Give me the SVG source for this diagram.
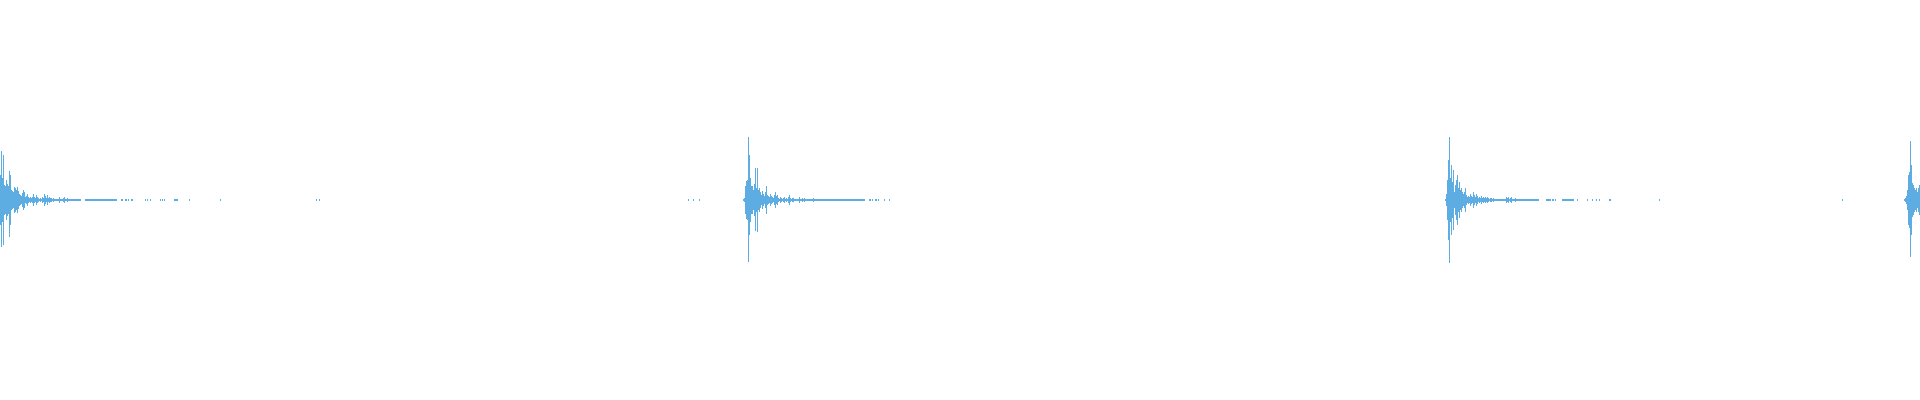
<svg xmlns="http://www.w3.org/2000/svg" width="1920" height="400" viewBox="0 0 1920 400">
<style>.w{fill:none;stroke:#5dade2;stroke-width:1}</style>
<rect width="1920" height="400" fill="#fff"/>
<g id="waveform">
<path class="w" d="M0.5 175v50M1.5 151v96M2.5 178v44M3.5 155v90M4.5 185v30M5.5 186v28M6.5 180v40M7.5 184v32M8.5 186v28M9.5 171v66M10.5 175v50M11.5 190v20M12.5 191v18M13.5 192v16M14.5 187v26M15.5 188v24M16.5 190v20M17.5 187v26M18.5 191v18M19.5 194v12M20.5 195v10M21.5 196v8M22.5 193v14M23.5 190v20M24.5 192v16M25.5 197v6M26.5 196v8M27.5 194v12M28.5 197v6M29.5 198v4M30.5 197v6M31.5 198v4M32.5 197v6M33.5 194v12M34.5 197v6M35.5 198v4M36.5 195v10M37.5 197v6M38.5 198v4M39.5 199v2M40.5 198v4M41.5 199v2M42.5 197v6M43.5 198v4M44.5 194v12M45.5 196v8M46.5 198v4M47.5 195v10M48.5 198v4M49.5 197v6M50.5 198v4M51.5 198v4M52.5 199v2M53.5 198v4M54.5 199v2M55.5 199v2M56.5 199v2M57.5 199v2M58.5 199v2M59.5 197v6M60.5 199v2M61.5 199v2M62.5 199v2M63.5 198v4M64.5 197v6M65.5 199v2M66.5 199v2M67.5 198v4M68.5 199v2M69.5 199v2M70.5 199v2M71.5 199v2M72.5 199v2M73.5 199v2M74.5 199v2M75.5 199v2M76.5 199v2M77.5 199v2M78.5 199v2M79.5 199v2M80.5 199v2M85.5 199v2M86.5 199v2M87.5 199v2M88.5 199v2M89.5 199v2M90.5 199v2M91.5 199v2M92.5 199v2M93.5 199v2M94.5 199v2M95.5 199v2M96.5 199v2M97.5 199v2M98.5 199v2M99.5 199v2M100.5 199v2M101.5 199v2M102.5 199v2M103.5 199v2M104.5 199v2M105.5 199v2M106.5 199v2M107.5 199v2M108.5 199v2M109.5 199v2M110.5 199v2M111.5 199v2M112.5 199v2M113.5 199v2M114.5 199v2M115.5 199v2M116.5 199v2M121.5 199v2M122.5 199v2M125.5 199v2M126.5 199v2M128.5 199v2M131.5 199v2M132.5 199v2M145.5 199v2M147.5 199v2M150.5 199v2M160.5 199v2M162.5 199v2M164.5 199v2M174.5 199v2M175.5 199v2M176.5 199v2M177.5 199v2M189.5 199v2M220.5 199v2M316.5 199v2M319.5 199v2"/>
<path class="w" d="M688.5 199v2M693.5 199v2M699.5 199v2M743.5 199v2M744.5 198v4M745.5 186v28M746.5 181v38M747.5 180v40M748.5 137v125M749.5 155v80M750.5 178v44M751.5 186v28M752.5 186v28M753.5 190v20M754.5 184v32M755.5 168v63M756.5 188v24M757.5 168v64M758.5 190v20M759.5 188v24M760.5 192v16M761.5 195v10M762.5 191v18M763.5 194v12M764.5 196v8M765.5 192v16M766.5 186v28M767.5 195v10M768.5 196v8M769.5 197v6M770.5 194v12M771.5 196v8M772.5 197v6M773.5 198v4M774.5 195v10M775.5 192v16M776.5 196v8M777.5 195v10M778.5 198v4M779.5 199v2M780.5 197v6M781.5 198v4M782.5 199v2M783.5 198v4M784.5 197v6M785.5 199v2M786.5 198v4M787.5 199v2M788.5 197v6M789.5 195v10M790.5 198v4M791.5 199v2M792.5 198v4M793.5 198v4M794.5 199v2M795.5 199v2M796.5 199v2M797.5 199v2M798.5 199v2M799.5 197v6M800.5 199v2M801.5 199v2M802.5 198v4M803.5 199v2M804.5 198v4M805.5 199v2M806.5 199v2M807.5 199v2M808.5 199v2M809.5 199v2M810.5 199v2M811.5 199v2M812.5 199v2M813.5 198v4M814.5 199v2M815.5 199v2M816.5 199v2M817.5 199v2M818.5 199v2M819.5 199v2M820.5 199v2M821.5 199v2M822.5 199v2M823.5 199v2M824.5 199v2M825.5 199v2M826.5 199v2M827.5 199v2M828.5 199v2M829.5 199v2M830.5 199v2M831.5 199v2M832.5 199v2M833.5 199v2M834.5 199v2M835.5 199v2M836.5 199v2M837.5 199v2M838.5 199v2M839.5 199v2M840.5 199v2M841.5 199v2M842.5 199v2M843.5 199v2M844.5 199v2M845.5 199v2M846.5 199v2M847.5 199v2M848.5 199v2M849.5 199v2M850.5 199v2M851.5 199v2M852.5 199v2M853.5 199v2M854.5 199v2M855.5 199v2M856.5 199v2M857.5 199v2M858.5 199v2M859.5 199v2M860.5 199v2M861.5 199v2M862.5 199v2M863.5 199v2M864.5 199v2M869.5 199v2M870.5 199v2M872.5 199v2M875.5 199v2M876.5 199v2M878.5 199v2M884.5 199v2M889.5 199v2"/>
<path class="w" d="M1445.5 199v2M1446.5 194v12M1447.5 180v40M1448.5 160v80M1449.5 137v126M1450.5 178v44M1451.5 165v70M1452.5 182v36M1453.5 170v60M1454.5 192v16M1455.5 185v30M1456.5 180v40M1457.5 175v50M1458.5 188v24M1459.5 182v36M1460.5 190v20M1461.5 188v24M1462.5 192v16M1463.5 194v12M1464.5 192v16M1465.5 188v24M1466.5 195v10M1467.5 197v6M1468.5 196v8M1469.5 197v6M1470.5 194v12M1471.5 196v8M1472.5 197v6M1473.5 192v16M1474.5 195v10M1475.5 197v6M1476.5 194v12M1477.5 196v8M1478.5 198v4M1479.5 197v6M1480.5 198v4M1481.5 196v8M1482.5 198v4M1483.5 197v6M1484.5 198v4M1485.5 197v6M1486.5 198v4M1487.5 197v6M1488.5 198v4M1489.5 199v2M1490.5 198v4M1491.5 198v4M1492.5 199v2M1493.5 198v4M1494.5 199v2M1495.5 199v2M1496.5 199v2M1497.5 199v2M1498.5 199v2M1499.5 199v2M1500.5 199v2M1501.5 199v2M1502.5 199v2M1503.5 199v2M1504.5 199v2M1505.5 199v2M1506.5 197v6M1507.5 198v4M1508.5 197v6M1509.5 199v2M1510.5 198v4M1511.5 197v6M1512.5 199v2M1513.5 199v2M1514.5 199v2M1515.5 198v4M1516.5 199v2M1517.5 199v2M1518.5 199v2M1519.5 199v2M1520.5 199v2M1521.5 199v2M1522.5 199v2M1523.5 199v2M1524.5 199v2M1525.5 199v2M1526.5 199v2M1527.5 199v2M1528.5 199v2M1529.5 199v2M1530.5 199v2M1531.5 199v2M1532.5 199v2M1533.5 199v2M1534.5 199v2M1535.5 199v2M1536.5 199v2M1537.5 199v2M1538.5 199v2M1546.5 199v2M1547.5 199v2M1548.5 199v2M1549.5 199v2M1550.5 199v2M1552.5 199v2M1553.5 199v2M1555.5 199v2M1562.5 199v2M1563.5 199v2M1564.5 199v2M1565.5 199v2M1566.5 199v2M1567.5 199v2M1568.5 199v2M1569.5 199v2M1570.5 199v2M1571.5 199v2M1572.5 199v2M1573.5 199v2M1577.5 199v2M1587.5 199v2M1592.5 199v2M1596.5 199v2M1599.5 199v2M1609.5 199v2M1610.5 199v2M1659.5 199v2M1842.5 199v2"/>
<path class="w" d="M1904.5 199v2M1905.5 198v4M1906.5 196v8M1907.5 190v20M1908.5 175v50M1909.5 172v56M1910.5 141v116M1911.5 165v70M1912.5 183v34M1913.5 185v30M1914.5 188v24M1915.5 190v20M1916.5 188v24M1917.5 192v16M1918.5 188v24M1919.5 185v30"/>
</g>
</svg>
